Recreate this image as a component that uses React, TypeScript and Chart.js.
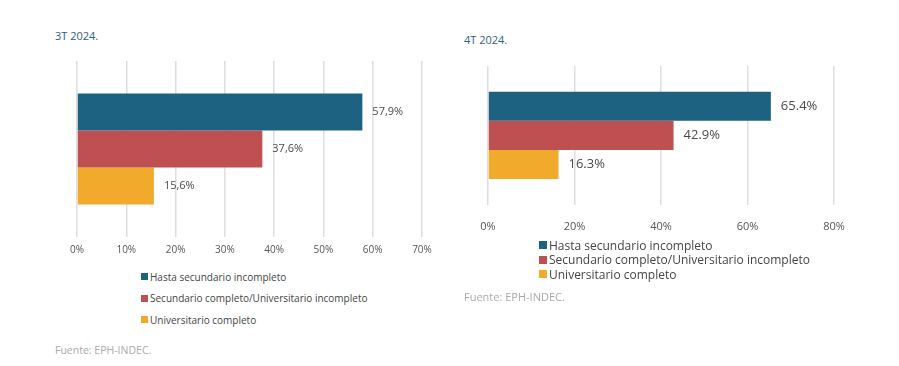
import React, { useEffect, useRef } from "react";
import { Chart, registerables } from "chart.js";

Chart.register(...registerables);

const seriesNames = [
  "Hasta secundario incompleto",
  "Secundario completo/Universitario incompleto",
  "Universitario completo",
];
const seriesColors = ["#1e6282", "#bf5052", "#f1aa2b"];
const values3T = [57.9, 37.6, 15.6];
const values4T = [65.4, 42.9, 16.3];
const titles = ["3T 2024.", "4T 2024."];
const sourceText = "Fuente: EPH-INDEC.";

const FONT = "'Open Sans', 'Noto Sans', sans-serif";

type Cfg = {
  values: number[];
  max: number;
  step: number;
  decimalComma: boolean;
  tickSize: number;
  labelSize: number;
  tickPad: number;
  padding: { left: number; right: number; top: number; bottom: number };
};

function BarChart({ cfg, style }: { cfg: Cfg; style: React.CSSProperties }) {
  const ref = useRef<HTMLCanvasElement>(null);
  useEffect(() => {
    if (!ref.current) return;
    const labelPlugin = {
      id: "valueLabels",
      afterDatasetsDraw(chart: any) {
        const ctx = chart.ctx;
        ctx.save();
        ctx.font = `${cfg.labelSize}px ${FONT}`;
        ctx.fillStyle = "#4a4a4a";
        ctx.textBaseline = "middle";
        ctx.textAlign = "left";
        chart.data.datasets.forEach((ds: any, i: number) => {
          const meta = chart.getDatasetMeta(i);
          meta.data.forEach((el: any, j: number) => {
            const v = ds.data[j] as number;
            let s = v.toFixed(1);
            if (cfg.decimalComma) s = s.replace(".", ",");
            ctx.fillText(s + "%", el.x + 10, el.y);
          });
        });
        ctx.restore();
      },
    };
    const chart = new Chart(ref.current, {
      type: "bar",
      data: {
        labels: [""],
        datasets: cfg.values.map((v, i) => ({
          label: seriesNames[i],
          data: [v],
          backgroundColor: seriesColors[i],
          borderWidth: 0,
          categoryPercentage: 0.63,
          barPercentage: 1,
        })),
      },
      options: {
        indexAxis: "y",
        animation: false,
        responsive: false,
        maintainAspectRatio: false,
        layout: { padding: cfg.padding },
        plugins: { legend: { display: false }, tooltip: { enabled: false } },
        scales: {
          x: {
            min: 0,
            max: cfg.max,
            ticks: {
              stepSize: cfg.step,
              padding: cfg.tickPad,
              color: "#555",
              font: { family: FONT, size: cfg.tickSize },
              callback: (v: any) => v + "%",
            },
            grid: { color: "#dedede", lineWidth: 1.5, drawTicks: false },
            border: { display: false },
          },
          y: { display: false, grid: { display: false } },
        },
      },
      plugins: [labelPlugin],
    } as any);
    return () => chart.destroy();
  }, []);
  return (
    <canvas
      ref={ref}
      width={style.width as number}
      height={style.height as number}
      style={{ position: "absolute", ...style }}
    />
  );
}

function Legend({
  left,
  top,
  rowGap,
  size,
  box,
}: {
  left: number;
  top: number;
  rowGap: number;
  size: number;
  box: number;
}) {
  return (
    <div style={{ position: "absolute", left, top }}>
      {seriesNames.map((n, i) => (
        <div
          key={n}
          style={{
            display: "flex",
            alignItems: "center",
            height: rowGap,
            fontFamily: FONT,
            fontSize: size,
            color: "#444",
            whiteSpace: "nowrap",
          }}
        >
          <span
            style={{
              display: "inline-block",
              width: box,
              height: box,
              background: seriesColors[i],
              marginRight: 2,
            }}
          />
          {n}
        </div>
      ))}
    </div>
  );
}

export default function App() {
  const txt = (t: string, left: number, top: number, size: number, color: string) => (
    <div
      style={{
        position: "absolute",
        left,
        top,
        fontFamily: FONT,
        fontSize: size,
        color,
        lineHeight: 1,
        whiteSpace: "nowrap",
      }}
    >
      {t}
    </div>
  );
  return (
    <div
      style={{
        position: "absolute",
        left: 0,
        top: 0,
        width: 899,
        height: 366,
        background: "#fff",
        overflow: "hidden",
      }}
    >
      {txt(titles[0], 55, 30, 11, "#2f5f7c")}
      {txt(titles[1], 464, 34, 11, "#2f5f7c")}
      <BarChart
        cfg={{
          values: values3T,
          max: 70,
          step: 10,
          decimalComma: true,
          tickSize: 10,
          labelSize: 11,
          tickPad: 7,
          padding: { left: 37, right: 28, top: 21, bottom: 0 },
        }}
        style={{ left: 40, top: 40, width: 410, height: 223 }}
      />
      <BarChart
        cfg={{
          values: values4T,
          max: 80,
          step: 20,
          decimalComma: false,
          tickSize: 11,
          labelSize: 13,
          tickPad: 15,
          padding: { left: 38, right: 65, top: 26, bottom: 0 },
        }}
        style={{ left: 450, top: 40, width: 449, height: 208 }}
      />
      <Legend left={539} top={238} rowGap={14.5} size={12} box={8} />
      <Legend left={141} top={266} rowGap={21.5} size={10} box={7} />
      {txt(sourceText, 55, 345, 10.5, "#aaa")}
      {txt(sourceText, 464, 291, 11, "#aaa")}
    </div>
  );
}
